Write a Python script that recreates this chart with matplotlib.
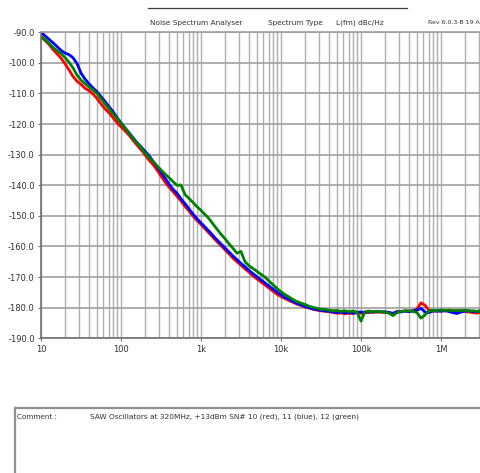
import matplotlib
matplotlib.use("Agg")
import matplotlib.pyplot as plt
from matplotlib.lines import Line2D
from matplotlib.ticker import FixedLocator, NullFormatter

# offset frequency, 20 points per decade
freq_hz = [
    10, 11.2, 12.6, 14.1, 15.8, 17.8, 20, 22.4, 25.1, 28.2, 31.6, 35.5, 39.8, 44.7, 50.1, 56.2, 63.1, 70.8, 79.4, 89.1,
    100, 112, 126, 141, 158, 178, 200, 224, 251, 282, 316, 355, 398, 447, 501, 562, 631, 708, 794, 891,
    1e3, 1.12e3, 1.26e3, 1.41e3, 1.58e3, 1.78e3, 2e3, 2.24e3, 2.51e3, 2.82e3, 3.16e3, 3.55e3, 3.98e3, 4.47e3, 5.01e3,
    5.62e3, 6.31e3, 7.08e3, 7.94e3, 8.91e3,
    1e4, 1.12e4, 1.26e4, 1.41e4, 1.58e4, 1.78e4, 2e4, 2.24e4, 2.51e4, 2.82e4, 3.16e4, 3.55e4, 3.98e4, 4.47e4, 5.01e4,
    5.62e4, 6.31e4, 7.08e4, 7.94e4, 8.91e4,
    1e5, 1.12e5, 1.26e5, 1.41e5, 1.58e5, 1.78e5, 2e5, 2.24e5, 2.51e5, 2.82e5, 3.16e5, 3.55e5, 3.98e5, 4.47e5, 5.01e5,
    5.62e5, 6.31e5, 7.08e5, 7.94e5, 8.91e5,
    1e6, 1.12e6, 1.26e6, 1.41e6, 1.58e6, 1.78e6, 2e6, 2.24e6, 2.51e6, 2.82e6, 3.16e6,
]

# L(fm) dBc/Hz, SN# 10 (red)
sn10_red = [
    -91.5, -92.6, -94.0, -95.6, -97.0, -98.5, -100.3, -102.3, -104.4, -106.0,
    -107.0, -108.3, -109.1, -110.2, -111.6, -113.4, -115.0, -116.3, -117.9, -119.5,
    -120.9, -122.2, -123.6, -125.3, -126.8, -128.4, -130.0, -131.8, -133.2, -135.0,
    -137.0, -138.9, -140.6, -142.1, -143.6, -145.1, -146.9, -148.4, -150.0, -151.5,
    -152.8, -154.2, -155.6, -157.0, -158.4, -159.7, -161.1, -162.4, -163.8, -165.0,
    -166.1, -167.3, -168.4, -169.6, -170.6, -171.6, -172.6, -173.6, -174.6, -175.6,
    -176.4, -177.0, -177.7, -178.2, -178.8, -179.3, -179.8, -180.1, -180.5, -180.8,
    -181.0, -181.2, -181.3, -181.6, -181.8, -181.7, -182.0, -181.8, -181.9, -181.6,
    -181.8, -181.5, -181.6, -181.3, -181.5, -181.4, -181.6, -181.5, -182.3, -181.2,
    -181.3, -181.0, -181.2, -181.0, -180.4, -178.4, -179.2, -180.9, -181.0, -181.2,
    -180.9, -181.1, -180.8, -181.0, -181.1, -180.9, -181.3, -181.4, -181.6, -181.8,
    -181.3,
]

# SN# 11 (blue)
sn11_blue = [
    -90.0, -91.1, -92.3, -93.4, -94.6, -95.9, -96.8, -97.3, -98.3, -100.2,
    -103.3, -105.3, -106.8, -108.2, -109.4, -111.0, -112.6, -114.3, -115.9, -117.8,
    -119.6, -121.2, -122.8, -124.4, -126.0, -127.4, -128.9, -130.3, -132.1, -133.9,
    -135.7, -137.6, -139.6, -141.3, -142.6, -144.4, -146.0, -147.7, -149.4, -150.9,
    -152.3, -153.6, -155.0, -156.4, -157.8, -159.2, -160.5, -161.8, -163.1, -164.3,
    -165.5, -166.6, -167.8, -168.9, -169.9, -170.9, -171.9, -172.9, -173.9, -174.9,
    -175.8, -176.7, -177.3, -178.0, -178.6, -179.1, -179.6, -180.0, -180.4, -180.6,
    -180.9, -181.0, -181.2, -181.3, -181.6, -181.4, -181.7, -181.5, -181.8, -181.5,
    -181.4, -181.6, -181.3, -181.5, -181.2, -181.4, -181.3, -181.6, -181.8, -181.3,
    -181.4, -181.1, -181.3, -181.0, -180.8, -180.2, -181.4, -181.6, -181.1, -181.0,
    -181.2, -180.9, -181.3, -181.6, -181.9, -181.4, -181.1, -181.0, -181.3, -181.2,
    -181.0,
]

# SN# 12 (green)
sn12_green = [
    -91.2, -92.4, -93.6, -94.9, -96.0, -97.0, -98.3, -99.8, -101.6, -104.0,
    -105.6, -106.8, -107.9, -108.9, -110.0, -111.7, -113.4, -115.0, -116.6, -118.1,
    -119.7, -121.3, -123.0, -124.7, -126.1, -127.7, -129.4, -130.9, -132.3, -133.6,
    -135.0, -136.3, -137.5, -138.8, -140.0, -139.9, -143.0, -144.3, -145.6, -147.0,
    -148.2, -149.5, -150.9, -152.6, -154.3, -156.0, -157.5, -159.1, -160.6, -162.2,
    -161.6, -165.0, -166.3, -167.2, -168.1, -169.1, -170.0, -171.3, -172.5, -173.7,
    -174.8, -175.7, -176.5, -177.3, -178.0, -178.5, -179.0, -179.5, -179.9, -180.2,
    -180.5, -180.6, -180.8, -181.0, -180.9, -181.2, -181.0, -181.3, -181.1, -181.4,
    -184.4, -181.3, -181.1, -181.4, -181.2, -181.3, -181.5, -181.8, -182.6, -181.6,
    -181.2, -181.1, -181.0, -181.2, -181.6, -183.4, -182.4, -181.0, -180.9, -181.0,
    -180.7, -180.9, -180.8, -181.0, -180.9, -181.0, -180.8, -181.1, -181.0, -181.2,
    -181.1,
]

x_ticks = [10, 100, 1e3, 1e4, 1e5, 1e6]
x_labels = ["10", "100", "1k", "10k", "100k", "1M"]
y_ticks = [-90, -100, -110, -120, -130, -140, -150, -160, -170, -180, -190]

comment = "SAW Oscillators at 320MHz, +13dBm SN# 10 (red), 11 (blue), 12 (green)"

plt.rcParams["font.family"] = ["DejaVu Sans"]
W, H = 481, 473
fig = plt.figure(figsize=(W / 100, H / 100), dpi=100)
fig.patch.set_facecolor("white")

ax = fig.add_axes([41 / W, 1 - 338.3 / H, 440 / W, 306 / H])
ax.plot(freq_hz, sn10_red, color="#ff0000", lw=2.0)
ax.plot(freq_hz, sn11_blue, color="#0000ff", lw=2.0)
ax.plot(freq_hz, sn12_green, color="#008000", lw=2.0)

ax.set_xscale("log")
ax.set_xlim(10, 10 ** 6.5)
ax.set_ylim(-190, -90)

ax.xaxis.set_major_locator(FixedLocator(x_ticks))
ax.set_xticklabels(x_labels)
ax.xaxis.set_minor_formatter(NullFormatter())
ax.set_yticks(y_ticks)
ax.set_yticklabels([f"{v:.1f}" for v in y_ticks])

ax.grid(True, which="both", axis="x", color="#b0b0b0", lw=1.0)
ax.grid(True, which="major", axis="y", color="#a0a0a0", lw=1.2)
ax.set_axisbelow(True)
ax.tick_params(which="major", length=2.5, width=0.8, color="#707070",
               labelsize=6, labelcolor="#303030", pad=2)
ax.tick_params(which="minor", length=0)

ax.spines["right"].set_visible(False)
ax.spines["top"].set_color("#a0a0a0")
ax.spines["top"].set_linewidth(1.2)
for side in ["left", "bottom"]:
    ax.spines[side].set_color("#707070")
    ax.spines[side].set_linewidth(1.2)

# header
fig.add_artist(Line2D([148 / W, 407 / W], [1 - 8.3 / H] * 2, color="#404040", lw=0.9))
hy = 1 - 23 / H
fig.text(150 / W, hy, "Noise Spectrum Analyser", fontsize=5.3, color="#303030", va="center")
fig.text(268 / W, hy, "Spectrum Type", fontsize=5.3, color="#303030", va="center")
fig.text(336 / W, hy, "L(fm) dBc/Hz", fontsize=5.3, color="#303030", va="center")
fig.text(480 / W, hy, "Rev 6.0.3-B 19 A", fontsize=4.5, color="#303030",
         va="center", ha="right")

# comment box
by = 1 - 407.7 / H
fig.add_artist(Line2D([15 / W, 1], [by, by], color="#909090", lw=1.6))
fig.add_artist(Line2D([15.5 / W, 15.5 / W], [0, by], color="#909090", lw=1.6))
cy = 1 - 416.5 / H
fig.text(17 / W, cy, "Comment :", fontsize=5.2, color="#303030", va="center")
fig.text(90 / W, cy, comment, fontsize=5.3, color="#303030", va="center")

fig.savefig("out.png", dpi=100)
